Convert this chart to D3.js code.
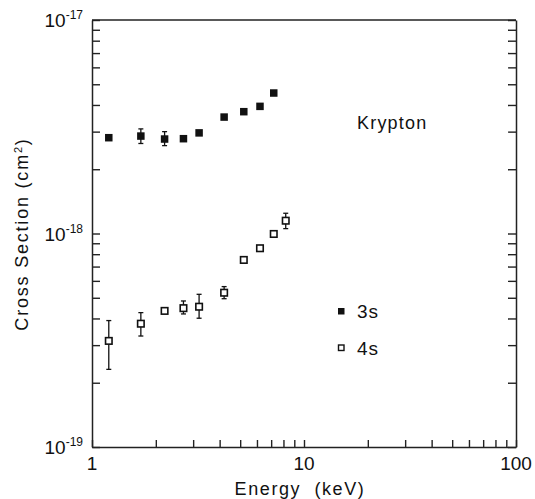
<!DOCTYPE html>
<html>
<head>
<meta charset="utf-8">
<script src="https://cdn.jsdelivr.net/npm/d3@7"></script>
<style>
  body { margin: 0; background: #fff; }
  svg { display: block; }
  text { font-family: "Liberation Sans", Arial, sans-serif; fill: #111; }
</style>
</head>
<body>
<svg width="535" height="499"></svg>
<script>
// Krypton 3s / 4s excitation cross sections
const energy3s = [1.2, 1.7, 2.2, 2.7, 3.2, 4.2, 5.2, 6.2, 7.2];
const cross3s = [2.81e-18, 2.86e-18, 2.77e-18, 2.78e-18, 2.96e-18, 3.51e-18, 3.72e-18, 3.94e-18, 4.55e-18];
const errLo3s = [null, 2.64e-18, 2.58e-18, null, null, null, null, null, null];
const errHi3s = [null, 3.09e-18, 3.00e-18, null, null, null, null, null, null];

const energy4s = [1.2, 1.7, 2.2, 2.7, 3.2, 4.2, 5.2, 6.2, 7.2, 8.2];
const cross4s = [3.14e-19, 3.78e-19, 4.34e-19, 4.47e-19, 4.54e-19, 5.28e-19, 7.52e-19, 8.53e-19, 9.95e-19, 1.148e-18];
const errLo4s = [2.31e-19, 3.31e-19, null, 4.20e-19, 4.01e-19, 4.95e-19, null, null, null, 1.054e-18];
const errHi4s = [3.91e-19, 4.26e-19, null, 4.83e-19, 5.19e-19, 5.64e-19, null, null, null, 1.244e-18];

const xTicks = [1, 2, 3, 4, 5, 6, 7, 8, 9, 10, 20, 30, 40, 50, 60, 70, 80, 90, 100];
const xLabels = [1, 10, 100];
const yTicks = [1e-19, 2e-19, 3e-19, 4e-19, 5e-19, 6e-19, 7e-19, 8e-19, 9e-19,
                1e-18, 2e-18, 3e-18, 4e-18, 5e-18, 6e-18, 7e-18, 8e-18, 9e-18, 1e-17];
const yLabels = [[1e-19, "-19"], [1e-18, "-18"], [1e-17, "-17"]];

const svg = d3.select('svg');
const m = { left: 92, right: 516, top: 20, bottom: 447 };

const x = d3.scaleLog().domain([1, 100]).range([m.left, m.right]);
const y = d3.scaleLog().domain([1e-19, 1e-17]).range([m.bottom, m.top]);

// frame + inward ticks
const axisStyle = g => {
  g.selectAll('path.domain').attr('stroke', '#222').attr('stroke-width', 1.5);
  g.selectAll('.tick line').attr('stroke', '#222').attr('stroke-width', 1.4);
};

svg.append('g')
  .attr('transform', `translate(0,${m.bottom})`)
  .call(d3.axisBottom(x).tickValues(xTicks).tickSize(-7).tickSizeOuter(0).tickFormat(''))
  .call(axisStyle);

svg.append('g')
  .attr('transform', `translate(${m.left},0)`)
  .call(d3.axisLeft(y).tickValues(yTicks).tickSize(-8).tickSizeOuter(0).tickFormat(''))
  .call(axisStyle);

svg.append('g')
  .attr('transform', `translate(${m.right},0)`)
  .call(d3.axisRight(y).tickValues(yTicks).tickSize(-8).tickSizeOuter(0).tickFormat(''))
  .call(axisStyle);

svg.append('line')
  .attr('x1', m.left).attr('x2', m.right).attr('y1', m.top).attr('y2', m.top)
  .attr('stroke', '#222').attr('stroke-width', 1.5);

// tick labels
svg.selectAll('.xlab')
  .data(xLabels)
  .enter()
  .append('text')
  .attr('x', d => x(d))
  .attr('y', m.bottom + 23)
  .attr('text-anchor', 'middle')
  .style('font-size', '19px')
  .text(d => d);

const yl = svg.selectAll('.ylab')
  .data(yLabels)
  .enter()
  .append('text')
  .attr('x', m.left - 9)
  .attr('y', d => y(d[0]) + 7)
  .attr('text-anchor', 'end')
  .style('font-size', '19px');
yl.append('tspan').text('10');
yl.append('tspan').attr('dy', -8).style('font-size', '12px').text(d => d[1]);

// axis titles
svg.append('text')
  .attr('x', 300)
  .attr('y', 495)
  .attr('text-anchor', 'middle')
  .attr('xml:space', 'preserve')
  .style('font-size', '18px')
  .style('letter-spacing', '1.6px')
  .text('Energy  (keV)');

const yt = svg.append('text')
  .attr('transform', 'translate(28,234) rotate(-90)')
  .attr('text-anchor', 'middle')
  .style('font-size', '18px')
  .style('letter-spacing', '1.8px');
yt.append('tspan').text('Cross Section (cm');
yt.append('tspan').attr('dy', -6).style('font-size', '11px').text('2');
yt.append('tspan').attr('dy', 6).text(')');

// error bars
function errorBars(cls, ex, lo, hi) {
  const idx = ex.map((d, i) => i).filter(i => lo[i] !== null);
  const g = svg.append('g').attr('class', cls).attr('stroke', '#111').attr('stroke-width', 1.3);
  g.selectAll('line.v').data(idx).enter().append('line')
    .attr('x1', i => x(ex[i])).attr('x2', i => x(ex[i]))
    .attr('y1', i => y(lo[i])).attr('y2', i => y(hi[i]));
  g.selectAll('line.lo').data(idx).enter().append('line')
    .attr('x1', i => x(ex[i]) - 2.5).attr('x2', i => x(ex[i]) + 2.5)
    .attr('y1', i => y(lo[i])).attr('y2', i => y(lo[i]));
  g.selectAll('line.hi').data(idx).enter().append('line')
    .attr('x1', i => x(ex[i]) - 2.5).attr('x2', i => x(ex[i]) + 2.5)
    .attr('y1', i => y(hi[i])).attr('y2', i => y(hi[i]));
}
errorBars('err3s', energy3s, errLo3s, errHi3s);
errorBars('err4s', energy4s, errLo4s, errHi4s);

// 3s filled squares
const s3 = 7.5;
svg.selectAll('.p3s')
  .data(energy3s)
  .enter()
  .append('rect')
  .attr('x', d => x(d) - s3 / 2)
  .attr('y', (d, i) => y(cross3s[i]) - s3 / 2)
  .attr('width', s3).attr('height', s3)
  .attr('fill', '#111');

// 4s open squares
const s4 = 6.5;
svg.selectAll('.p4s')
  .data(energy4s)
  .enter()
  .append('rect')
  .attr('x', d => x(d) - s4 / 2)
  .attr('y', (d, i) => y(cross4s[i]) - s4 / 2)
  .attr('width', s4).attr('height', s4)
  .attr('fill', '#fff')
  .attr('stroke', '#111')
  .attr('stroke-width', 1.6);

// legend + label
svg.append('text').attr('x', 357).attr('y', 129).style('font-size', '18px').style('letter-spacing', '1.2px').text('Krypton');

svg.append('rect').attr('x', 338).attr('y', 308).attr('width', 6.5).attr('height', 6.5).attr('fill', '#111');
svg.append('text').attr('x', 357).attr('y', 318).style('font-size', '19px').style('letter-spacing', '1px').text('3s');
svg.append('rect').attr('x', 338.5).attr('y', 345).attr('width', 5.5).attr('height', 5.5)
  .attr('fill', '#fff').attr('stroke', '#111').attr('stroke-width', 1.4);
svg.append('text').attr('x', 357).attr('y', 355).style('font-size', '19px').style('letter-spacing', '1px').text('4s');
</script>
</body>
</html>
